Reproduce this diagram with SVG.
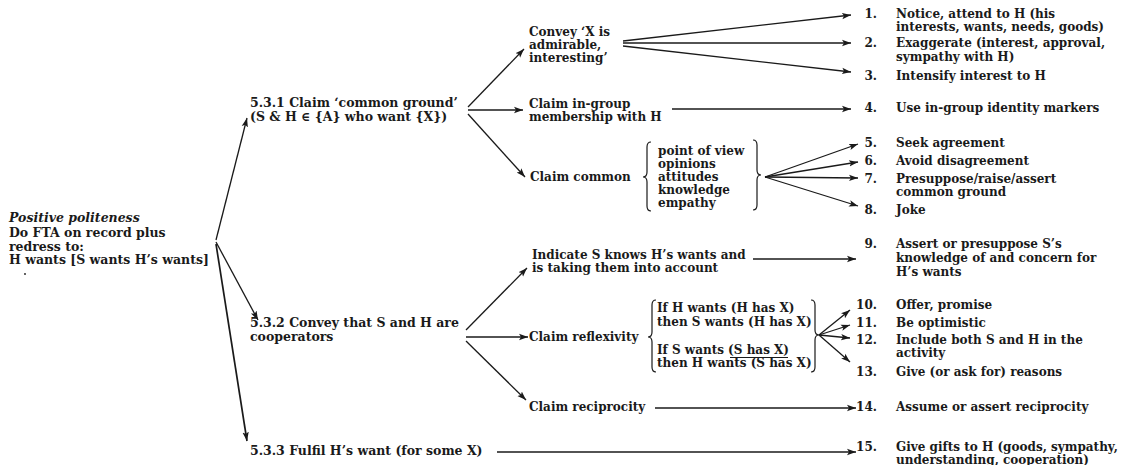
<svg xmlns="http://www.w3.org/2000/svg" width="1126" height="465" viewBox="0 0 1126 465">
<style>
text{font-family:"DejaVu Serif","Liberation Serif",serif;font-weight:bold;font-size:12px;fill:#1a1a1a}
.big{font-size:12.5px}
.it{font-style:italic}
.num{text-anchor:end}
.c line,.c path{stroke:#1a1a1a;stroke-width:1.3;fill:none}
.br{stroke:#1a1a1a;stroke-width:1.2;fill:none}
</style>
<defs>
<marker id="ah" markerUnits="userSpaceOnUse" markerWidth="10" markerHeight="8" refX="9" refY="4" orient="auto">
<path d="M0,0.8 L9,4 L0,7.2 L2,4 z" fill="#1a1a1a"/>
</marker>
</defs>
<rect width="1126" height="465" fill="#fff"/>

<g id="root">
<text x="9" y="222" class="it big">Positive politeness</text>
<text x="9" y="237" class="big">Do FTA on record plus</text>
<text x="9" y="250.5" class="big">redress to:</text>
<text x="9" y="264" class="big">H wants [S wants H’s wants]</text>
<circle cx="25" cy="274" r="0.9" fill="#1a1a1a"/>
</g>

<g id="n531">
<text x="250" y="107" class="big">5.3.1 Claim ‘common ground’</text>
<text x="250" y="121" class="big">(S &amp; H ∈ {A} who want {X})</text>
</g>
<g id="n532">
<text x="250" y="327" class="big">5.3.2 Convey that S and H are</text>
<text x="250" y="341" class="big">cooperators</text>
</g>
<g id="n533">
<text x="250" y="455" class="big">5.3.3 Fulfil H’s want (for some X)</text>
</g>

<g id="convey">
<text x="529" y="36">Convey ‘X is</text>
<text x="529" y="49">admirable,</text>
<text x="529" y="62">interesting’</text>
</g>
<g id="ingroup">
<text x="529" y="108">Claim in-group</text>
<text x="529" y="121">membership with H</text>
</g>
<g id="common">
<text x="530" y="181">Claim common</text>
<path class="br" d="M651,142 Q647,142 647,147 L647,172 Q647,177 643,177 Q647,177 647,182 L647,206 Q647,211 651,211"/>
<text x="658" y="155">point of view</text>
<text x="658" y="168">opinions</text>
<text x="658" y="181">attitudes</text>
<text x="658" y="194">knowledge</text>
<text x="658" y="207">empathy</text>
<path class="br" d="M753,140 Q757,140 757,145 L757,170 Q757,175 761,175 Q757,175 757,180 L757,205 Q757,210 753,210"/>
</g>
<g id="indicate">
<text x="532" y="259">Indicate S knows H’s wants and</text>
<text x="532" y="272">is taking them into account</text>
</g>
<g id="reflexivity">
<text x="529" y="341">Claim reflexivity</text>
<path class="br" d="M656,300 Q652,300 652,305 L652,332 Q652,337 648,337 Q652,337 652,342 L652,367 Q652,372 656,372"/>
<text x="657" y="312">If H wants (H has X)</text>
<text x="657" y="326">then S wants (H has X)</text>
<text x="657" y="354">If S wants (S has X)</text>
<text x="657" y="367">then H wants (S has X)</text>
<line x1="730" y1="357.5" x2="788" y2="357.5" stroke="#1a1a1a" stroke-width="1"/>
<path class="br" d="M811,300 Q815,300 815,305 L815,330 Q815,335 819,335 Q815,335 815,340 L815,367 Q815,372 811,372"/>
</g>
<g id="reciprocity">
<text x="529" y="411">Claim reciprocity</text>
</g>

<g id="s1"><text x="877" y="18" class="num">1.</text><text x="896" y="18">Notice, attend to H (his</text><text x="896" y="31">interests, wants, needs, goods)</text></g>
<g id="s2"><text x="877" y="47" class="num">2.</text><text x="896" y="47">Exaggerate (interest, approval,</text><text x="896" y="61">sympathy with H)</text></g>
<g id="s3"><text x="877" y="80" class="num">3.</text><text x="896" y="80">Intensify interest to H</text></g>
<g id="s4"><text x="877" y="112" class="num">4.</text><text x="896" y="112">Use in-group identity markers</text></g>
<g id="s5"><text x="877" y="147" class="num">5.</text><text x="896" y="147">Seek agreement</text></g>
<g id="s6"><text x="877" y="165" class="num">6.</text><text x="896" y="165">Avoid disagreement</text></g>
<g id="s7"><text x="877" y="183" class="num">7.</text><text x="896" y="183">Presuppose/raise/assert</text><text x="896" y="196">common ground</text></g>
<g id="s8"><text x="877" y="214" class="num">8.</text><text x="896" y="214">Joke</text></g>
<g id="s9"><text x="877" y="248" class="num">9.</text><text x="896" y="248">Assert or presuppose S’s</text><text x="896" y="262">knowledge of and concern for</text><text x="896" y="276">H’s wants</text></g>
<g id="s10"><text x="877" y="309" class="num">10.</text><text x="896" y="309">Offer, promise</text></g>
<g id="s11"><text x="877" y="327" class="num">11.</text><text x="896" y="327">Be optimistic</text></g>
<g id="s12"><text x="877" y="344" class="num">12.</text><text x="896" y="344">Include both S and H in the</text><text x="896" y="357">activity</text></g>
<g id="s13"><text x="877" y="376" class="num">13.</text><text x="896" y="376">Give (or ask for) reasons</text></g>
<g id="s14"><text x="877" y="411" class="num">14.</text><text x="896" y="411">Assume or assert reciprocity</text></g>
<g id="s15"><text x="877" y="451" class="num">15.</text><text x="896" y="451">Give gifts to H (goods, sympathy,</text><text x="896" y="464">understanding, cooperation)</text></g>

<g id="connectors" class="c">
<line x1="216" y1="240" x2="247" y2="118" marker-end="url(#ah)"/>
<line x1="216" y1="242" x2="258" y2="320" marker-end="url(#ah)"/>
<line x1="216" y1="244" x2="247" y2="441" marker-end="url(#ah)" style="stroke-width:1.7"/>
<line x1="468" y1="107" x2="524" y2="49" marker-end="url(#ah)"/>
<line x1="468" y1="110" x2="523" y2="110" marker-end="url(#ah)"/>
<line x1="468" y1="114" x2="525" y2="177" marker-end="url(#ah)"/>
<line x1="623" y1="41" x2="851" y2="15" marker-end="url(#ah)"/>
<line x1="623" y1="43" x2="851" y2="43" marker-end="url(#ah)"/>
<line x1="623" y1="46" x2="851" y2="72" marker-end="url(#ah)"/>
<line x1="672" y1="109" x2="851" y2="109" marker-end="url(#ah)"/>
<line x1="765" y1="177" x2="858" y2="144" marker-end="url(#ah)"/>
<line x1="765" y1="177" x2="858" y2="162" marker-end="url(#ah)"/>
<line x1="765" y1="177" x2="858" y2="178" marker-end="url(#ah)"/>
<line x1="765" y1="177" x2="858" y2="206" marker-end="url(#ah)"/>
<line x1="466" y1="330" x2="527" y2="268" marker-end="url(#ah)"/>
<line x1="466" y1="337" x2="528" y2="337" marker-end="url(#ah)"/>
<line x1="466" y1="341" x2="526" y2="400" marker-end="url(#ah)"/>
<line x1="753" y1="259" x2="856" y2="259" marker-end="url(#ah)"/>
<line x1="819" y1="335" x2="850" y2="310" marker-end="url(#ah)"/>
<line x1="819" y1="335" x2="850" y2="325" marker-end="url(#ah)"/>
<line x1="819" y1="335" x2="850" y2="338" marker-end="url(#ah)"/>
<line x1="819" y1="335" x2="850" y2="362" marker-end="url(#ah)"/>
<line x1="655" y1="408" x2="856" y2="408" marker-end="url(#ah)"/>
<line x1="497" y1="452" x2="856" y2="452" marker-end="url(#ah)"/>
</g>
</svg>
